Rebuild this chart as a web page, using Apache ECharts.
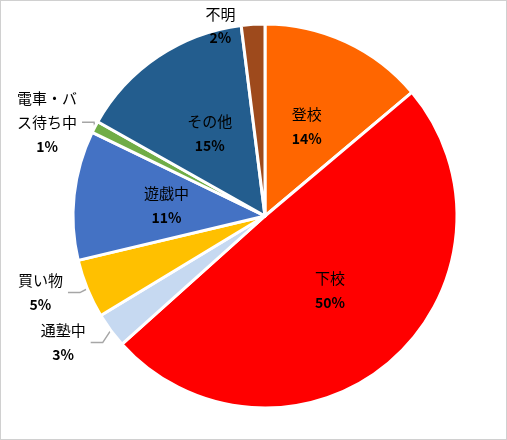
<!DOCTYPE html>
<html>
<head>
<meta charset="utf-8">
<script src="https://cdn.jsdelivr.net/npm/echarts@6/dist/echarts.min.js"></script>
<style>
html, body { margin: 0; padding: 0; background: #fff; }
#main { width: 505px; height: 438px; border: 1px solid #d0d0d0; }
</style>
</head>
<body>
<div id="main"></div>
<script>
const categories = ['登校', '下校', '通塾中', '買い物', '遊戯中', '電車・バス待ち中', 'その他', '不明'];
const values = [14, 50, 3, 5, 11, 1, 15, 2];
const colors = ['#FF6600', '#FF0000', '#C6D9F1', '#FFC000', '#4472C4', '#70AD47', '#235D8E', '#9E4A1C'];
const labelNames = ['登校', '下校', '通塾中', '買い物', '遊戯中', '電車・バ\nス待ち中', 'その他', '不明'];
const outside = [false, false, true, true, false, true, false, true];

const chart = echarts.init(document.getElementById('main'));

const data = categories.map((name, i) => {
    const item = {
        name,
        value: values[i],
        itemStyle: { color: colors[i] },
        label: {
            position: outside[i] ? 'outside' : 'inside',
            formatter: '{n|' + labelNames[i] + '}\n{p|' + values[i] + '%}'
        },
        labelLine: { show: outside[i] }
    };
    return item;
});

chart.setOption({
    animation: false,
    series: [{
        type: 'pie',
        center: [264, 215],
        radius: [0, 192],
        startAngle: 90,
        clockwise: true,
        data,
        itemStyle: { borderColor: '#fff', borderWidth: 3 },
        label: {
            color: '#000',
            lineHeight: 24,
            fontFamily: 'Noto Sans CJK JP',
            rich: {
                n: { fontSize: 15, color: '#000', fontFamily: 'Noto Sans CJK JP', lineHeight: 24, align: 'center' },
                p: { fontSize: 14, fontWeight: 'bold', color: '#000', fontFamily: 'Noto Sans CJK JP', lineHeight: 24, align: 'center' }
            }
        },
        labelLine: {
            length: 10,
            length2: 12,
            lineStyle: { color: '#a6a6a6', width: 1.5 }
        }
    }]
});
</script>
</body>
</html>
